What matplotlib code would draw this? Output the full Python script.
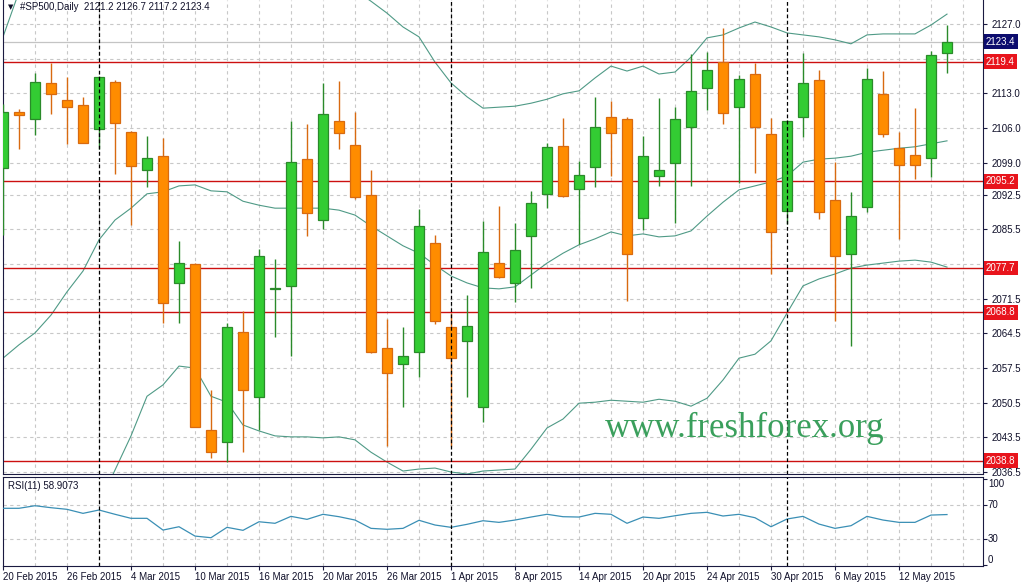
import matplotlib.pyplot as plt
import matplotlib.transforms as mtransforms

# daily bars 20 Feb 2015 .. 15 May 2015
opens = [2098.0, 2109.2, 2107.9, 2115.0, 2111.6, 2110.6, 2105.7, 2115.3, 2105.2, 2097.6,
         2100.3, 2074.6, 2078.5, 2045.0, 2042.5, 2064.7, 2051.6, 2073.4, 2074.1, 2099.7,
         2087.5, 2107.4, 2102.6, 2092.5, 2061.5, 2058.3, 2060.7, 2082.7, 2065.7, 2063.0,
         2049.6, 2078.8, 2074.7, 2084.2, 2092.6, 2102.4, 2093.6, 2098.2, 2108.2, 2107.8,
         2087.9, 2096.2, 2099.0, 2106.1, 2114.1, 2119.3, 2110.3, 2117.0, 2104.7, 2089.3,
         2108.2, 2115.7, 2091.4, 2080.5, 2090.0, 2112.8, 2101.9, 2100.5, 2099.9, 2121.2]
highs = [2110.8, 2109.8, 2117.2, 2119.1, 2116.2, 2112.2, 2116.4, 2115.7, 2105.3, 2104.4,
         2104.0, 2083.2, 2078.8, 2053.1, 2066.7, 2069.0, 2081.5, 2079.5, 2107.5, 2106.8,
         2115.1, 2115.5, 2109.2, 2097.6, 2067.4, 2065.7, 2089.6, 2084.4, 2068.6, 2072.3,
         2087.2, 2090.2, 2086.9, 2093.3, 2102.9, 2108.0, 2099.4, 2112.2, 2111.4, 2108.3,
         2104.4, 2112.0, 2110.2, 2120.9, 2121.3, 2126.1, 2116.7, 2119.1, 2108.0, 2107.6,
         2121.1, 2117.7, 2099.2, 2093.0, 2118.1, 2117.6, 2105.1, 2110.1, 2121.6, 2126.7]
lows = [2084.4, 2101.7, 2104.6, 2108.8, 2102.8, 2102.9, 2101.7, 2096.8, 2086.5, 2094.1,
        2066.7, 2066.7, 2045.5, 2039.3, 2038.6, 2040.5, 2045.0, 2063.8, 2060.0, 2084.2,
        2085.5, 2101.7, 2091.6, 2060.6, 2041.8, 2049.6, 2055.7, 2066.5, 2041.8, 2051.7,
        2046.7, 2075.6, 2070.9, 2073.7, 2089.9, 2092.0, 2082.6, 2094.1, 2096.2, 2071.1,
        2085.4, 2094.3, 2086.9, 2094.3, 2109.6, 2106.8, 2094.8, 2097.0, 2076.6, 2086.7,
        2104.2, 2087.7, 2067.1, 2062.0, 2089.0, 2104.1, 2083.6, 2095.7, 2096.0, 2117.2]
closes = [2109.3, 2108.7, 2115.2, 2112.9, 2110.3, 2102.9, 2116.2, 2107.1, 2098.3, 2099.9,
          2070.6, 2078.7, 2045.5, 2040.5, 2065.7, 2053.1, 2080.2, 2073.6, 2099.2, 2088.8,
          2108.8, 2104.9, 2092.1, 2060.8, 2056.6, 2059.9, 2086.2, 2067.1, 2059.5, 2066.0,
          2081.0, 2075.8, 2081.3, 2090.8, 2102.1, 2092.3, 2096.4, 2106.1, 2105.0, 2080.5,
          2100.3, 2097.6, 2107.8, 2113.5, 2117.8, 2109.1, 2115.8, 2106.1, 2084.9, 2107.5,
          2115.0, 2089.0, 2080.2, 2088.2, 2115.8, 2104.7, 2098.5, 2098.5, 2120.7, 2123.4]

# bollinger bands
bb_up = [2124.4, 2133.5, 2135.0, 2136.0, 2137.0, 2138.0, 2139.0, 2139.0, 2138.5, 2138.0,
         2137.5, 2137.0, 2137.0, 2136.5, 2136.5, 2136.5, 2136.0, 2136.0, 2136.0, 2136.0,
         2136.0, 2135.0, 2133.8, 2131.6, 2129.2, 2126.4, 2124.4, 2119.3, 2115.1, 2112.3,
         2110.0, 2110.2, 2110.4, 2111.0, 2111.8, 2112.9, 2113.5, 2116.1, 2118.5, 2117.5,
         2118.5, 2116.9, 2117.3, 2120.3, 2124.2, 2124.8, 2126.2, 2127.4, 2126.4, 2125.2,
         2124.8, 2124.4, 2123.8, 2123.0, 2124.8, 2125.0, 2125.0, 2125.0, 2126.8, 2129.0]
bb_mid = [2059.5, 2062.2, 2064.6, 2068.2, 2072.9, 2077.1, 2083.4, 2087.4, 2089.8, 2092.7,
          2093.1, 2094.3, 2094.5, 2093.3, 2093.1, 2091.2, 2090.4, 2089.8, 2089.8, 2089.8,
          2089.8, 2089.4, 2088.4, 2086.2, 2084.2, 2082.2, 2080.7, 2078.3, 2076.1, 2074.7,
          2073.7, 2073.5, 2073.9, 2076.3, 2078.7, 2080.7, 2082.4, 2083.6, 2085.0, 2084.2,
          2084.6, 2084.0, 2084.2, 2085.2, 2088.2, 2091.0, 2093.5, 2094.3, 2095.1, 2096.3,
          2099.1, 2099.7, 2099.9, 2100.3, 2101.1, 2101.5, 2101.9, 2102.2, 2102.8, 2103.4]
bb_low = [1995.0, 2000.0, 2005.0, 2012.0, 2018.0, 2024.0, 2030.0, 2036.9, 2043.8, 2051.8,
          2054.1, 2057.9, 2057.5, 2051.8, 2050.6, 2046.0, 2044.8, 2043.8, 2043.6, 2043.6,
          2043.4, 2043.6, 2043.0, 2040.5, 2038.5, 2036.7, 2037.1, 2037.3, 2036.5, 2036.1,
          2036.7, 2036.9, 2037.1, 2041.1, 2045.4, 2047.2, 2050.4, 2050.6, 2051.0, 2050.8,
          2050.6, 2051.2, 2050.8, 2049.8, 2051.4, 2055.1, 2059.5, 2060.3, 2063.0, 2068.6,
          2074.1, 2075.5, 2076.5, 2077.7, 2078.3, 2078.7, 2079.1, 2079.3, 2078.9, 2077.9]

rsi = [66.2, 66.2, 69.2, 66.9, 65.0, 60.3, 64.2, 59.2, 54.5, 54.5,
       40.8, 44.7, 33.8, 31.9, 44.0, 40.5, 50.5, 48.7, 56.8, 53.3,
       59.2, 56.4, 52.5, 42.8, 41.7, 42.8, 52.2, 46.7, 44.0, 47.5,
       51.7, 49.8, 52.5, 56.0, 59.2, 56.4, 56.0, 60.3, 59.2, 48.7,
       56.0, 54.5, 57.5, 60.3, 61.5, 57.2, 59.2, 55.2, 44.7, 53.7,
       56.8, 47.8, 42.8, 45.9, 56.8, 52.5, 49.8, 49.8, 58.3, 58.9]

date_labels = ['20 Feb 2015', '26 Feb 2015', '4 Mar 2015', '10 Mar 2015', '16 Mar 2015',
               '20 Mar 2015', '26 Mar 2015', '1 Apr 2015', '8 Apr 2015', '14 Apr 2015',
               '20 Apr 2015', '24 Apr 2015', '30 Apr 2015', '6 May 2015', '12 May 2015']
month_starts = [6, 28, 49]   # 2 Mar, 1 Apr, 1 May

price_ticks = [2127.0, 2120.0, 2113.0, 2106.0, 2099.0, 2092.5, 2085.5, 2078.5,
               2071.5, 2064.5, 2057.5, 2050.5, 2043.5, 2036.5]
hidden_ticks = [2120.0, 2078.5]   # covered by the level boxes
levels = [2119.4, 2095.2, 2077.7, 2068.8, 2038.8]
last_price = 2123.4

plt.rcParams['font.family'] = ['Liberation Sans', 'DejaVu Sans']

W, H = 1025, 583
fig = plt.figure(figsize=(W / 100, H / 100), dpi=100)
ax = fig.add_axes([3 / W, (H - 474) / H, 980 / W, 474 / H])
ax2 = fig.add_axes([3 / W, (H - 566) / H, 980 / W, 89 / H], sharex=ax)

n = len(closes)
x = list(range(n))
frame = '#1a1a40'
grid_c = '#c8c8c8'
txt_c = '#10102a'

# candles
g_fill, g_edge = '#33cc33', '#2a8a2a'
o_fill, o_edge = '#ff8c00', '#d86a10'
for i in x:
    up = closes[i] >= opens[i]
    ax.vlines(i, lows[i], highs[i], color=g_edge if up else o_edge, lw=1, zorder=3)
    lo = min(opens[i], closes[i])
    h = max(abs(closes[i] - opens[i]), 0.25)
    ax.bar(i, h, bottom=lo, width=0.62, color=g_fill if up else o_fill,
           edgecolor=g_edge if up else o_edge, linewidth=0.9, zorder=4)

band_c = '#4f9a86'
for band in (bb_up, bb_mid, bb_low):
    ax.plot(x, band, color=band_c, lw=0.8, zorder=2)

ax.axhline(last_price, color='#c4c4c4', lw=0.9, zorder=1)
for lv in levels:
    ax.axhline(lv, color='#cc1010', lw=1.0, zorder=2)

# grids
for k in range(0, 62, 2):
    for a in (ax, ax2):
        a.axvline(k, color=grid_c, lw=0.8, ls=(0, (3, 3)), zorder=0)
for t in price_ticks:
    ax.axhline(t, color=grid_c, lw=0.8, ls=(0, (3, 3)), zorder=0)
for m in month_starts:
    for a in (ax, ax2):
        a.axvline(m, color='black', lw=0.9, ls=(0, (3, 2)), zorder=5)

ax.set_xlim(0, 61.25)
ax.set_ylim(2036.1, 2131.85)
ax.yaxis.tick_right()
ax.set_yticks(price_ticks)
ax.set_yticklabels(['' if t in hidden_ticks else '%.1f' % t for t in price_ticks])
ax.tick_params(axis='y', length=3, width=0.8, pad=3, labelsize=7, colors=frame, labelcolor=txt_c)
ax.tick_params(axis='x', length=0, labelbottom=False)
for s in ('left', 'right', 'bottom'):
    ax.spines[s].set_color(frame)
ax.spines['top'].set_visible(False)

trans = mtransforms.blended_transform_factory(ax.transAxes, ax.transData)
for lv in levels:
    ax.text(1.003, lv, '%.1f' % lv, transform=trans, ha='left', va='center', fontsize=7,
            color='white', clip_on=False, zorder=10,
            bbox=dict(boxstyle='square,pad=0.25', fc='#e8141c', ec='none'))
ax.text(1.003, last_price, '%.1f' % last_price, transform=trans, ha='left', va='center',
        fontsize=7, color='white', clip_on=False, zorder=10,
        bbox=dict(boxstyle='square,pad=0.25', fc='#0c0c6e', ec='none'))

# rsi panel
ax2.plot(x, rsi, color='#3a8fb5', lw=0.9, zorder=3)
ax2.axhline(70, color=grid_c, lw=0.8, ls=(0, (3, 3)), zorder=0)
ax2.axhline(30, color=grid_c, lw=0.8, ls=(0, (3, 3)), zorder=0)
ax2.set_ylim(-1.1, 102.7)
ax2.yaxis.tick_right()
ax2.set_yticks([0, 30, 70, 100])
ax2.set_yticklabels([])
ax2.tick_params(axis='y', length=3, width=0.8, colors=frame)
for val, va in ((100, 'top'), (70, 'center'), (30, 'center'), (0, 'bottom')):
    ax2.text(1.005, val, str(val), transform=mtransforms.blended_transform_factory(ax2.transAxes, ax2.transData),
             ha='left', va=va, fontsize=7, color=txt_c, clip_on=False)
ax2.set_xticks(list(range(0, 60, 4)))
ax2.set_xticklabels(date_labels, ha='left')
ax2.tick_params(axis='x', length=3, width=0.8, pad=1.5, labelsize=7, colors=frame, labelcolor=txt_c)
for s in ax2.spines.values():
    s.set_color(frame)

fig.text(8 / W, 1 - 486 / H, 'RSI(11) 58.9073', fontsize=7, color=txt_c, va='center')
fig.text(8 / W, 1 - 7.5 / H, '\u25bc', fontsize=5, color=txt_c, va='center',
         family=['DejaVu Sans'])
fig.text(20 / W, 1 - 7.5 / H, '#SP500,Daily  2121.2 2126.7 2117.2 2123.4', fontsize=7,
         color=txt_c, va='center')
fig.text(605 / W, 1 - 428 / H, 'www.freshforex.org', fontsize=25, color='#3a9f5c',
         family=['Liberation Serif', 'DejaVu Serif'], va='center', ha='left', zorder=6)

fig.savefig('out.png', dpi=100, facecolor='white')
